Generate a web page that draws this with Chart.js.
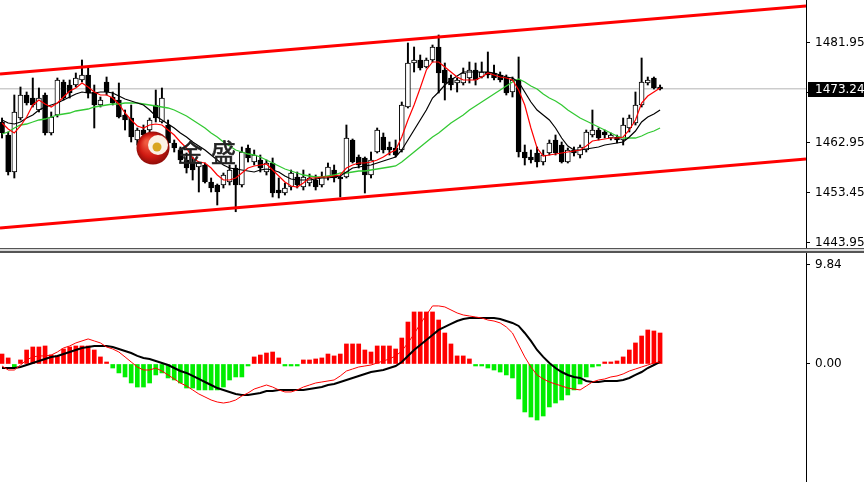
<!DOCTYPE html>
<html>
<head>
<meta charset="utf-8">
<script src="https://cdn.jsdelivr.net/npm/chart.js@4.4.1/dist/chart.umd.min.js"></script>
<style>
  html, body { margin: 0; padding: 0; background: #fff; }
  #wrap { position: relative; width: 864px; height: 482px; overflow: hidden; background: #fff; }
  #priceChart { position: absolute; left: 0; top: 0; }
  #sep { position: absolute; left: 0; top: 248px; width: 864px; height: 5px; box-sizing: border-box;
         border-top: 1px solid #555; border-bottom: 2px solid #555; background: #d8d8d8; }
  #macdChart { position: absolute; left: 0; top: 253px; }
</style>
</head>
<body>
<div id="wrap">
  <canvas id="priceChart" width="864" height="248"></canvas>
  <div id="sep"></div>
  <canvas id="macdChart" width="864" height="229"></canvas>
</div>
<script>
// bar number of each candle
const candleIndex = [
  0, 1, 2, 3, 4, 5, 6, 7, 8, 9, 10, 11, 12, 13, 14, 15, 16, 17, 18, 19,
  20, 21, 22, 23, 24, 25, 26, 27, 28, 29, 30, 31, 32, 33, 34, 35, 36, 37, 38, 39,
  40, 41, 42, 43, 44, 45, 46, 47, 48, 49, 50, 51, 52, 53, 54, 55, 56, 57, 58, 59,
  60, 61, 62, 63, 64, 65, 66, 67, 68, 69, 70, 71, 72, 73, 74, 75, 76, 77, 78, 79,
  80, 81, 82, 83, 84, 85, 86, 87, 88, 89, 90, 91, 92, 93, 94, 95, 96, 97, 98, 99,
  100, 101, 102, 103, 104, 105, 106, 107
];

const opens = [
  1466.94, 1464.47, 1457.44, 1467.70, 1472.07, 1471.50, 1469.22, 1472.07, 1464.85, 1468.27,
  1474.54, 1473.97, 1473.97, 1474.92, 1475.87, 1472.64, 1470.17, 1474.54, 1471.69, 1471.12,
  1468.27, 1467.70, 1463.52, 1465.42, 1465.42, 1470.17, 1466.94, 1466.37, 1462.95, 1461.62,
  1459.72, 1459.15, 1458.39, 1458.77, 1455.54, 1454.97, 1454.97, 1455.54, 1458.20, 1454.97,
  1462.00, 1459.34, 1459.72, 1457.44, 1459.15, 1454.02, 1453.45, 1454.59, 1456.49, 1454.59,
  1455.35, 1455.92, 1454.97, 1456.49, 1457.82, 1456.49, 1456.49, 1463.52, 1460.29, 1460.10,
  1456.87, 1461.24, 1464.09, 1462.19, 1462.00, 1461.62, 1469.79, 1478.15, 1478.72, 1477.39,
  1478.72, 1481.19, 1476.82, 1475.30, 1474.35, 1474.35, 1475.30, 1476.82, 1475.49, 1476.44,
  1476.25, 1475.87, 1475.49, 1472.64, 1474.92, 1461.24, 1460.29, 1461.05, 1459.34, 1461.05,
  1463.52, 1462.57, 1459.34, 1461.62, 1460.67, 1461.62, 1464.47, 1465.42, 1465.04, 1463.90,
  1464.09, 1463.52, 1465.80, 1466.75, 1470.17, 1474.35, 1475.30, 1473.59
];
const highs = [
  1467.70, 1465.04, 1472.07, 1473.59, 1472.64, 1475.30, 1473.40, 1472.45, 1468.84, 1475.30,
  1474.92, 1474.92, 1476.25, 1478.72, 1477.20, 1473.97, 1471.69, 1475.49, 1472.64, 1474.35,
  1469.22, 1470.17, 1465.80, 1466.37, 1467.70, 1473.02, 1473.40, 1467.32, 1463.52, 1462.19,
  1461.05, 1460.29, 1459.34, 1459.15, 1456.30, 1455.16, 1457.25, 1458.77, 1458.77, 1462.19,
  1462.57, 1461.62, 1460.67, 1459.72, 1460.10, 1456.30, 1455.35, 1457.82, 1457.44, 1457.82,
  1457.06, 1456.87, 1457.44, 1459.15, 1458.77, 1456.68, 1466.37, 1463.71, 1460.67, 1460.29,
  1461.24, 1465.80, 1464.85, 1463.14, 1463.52, 1470.74, 1481.95, 1481.19, 1479.67, 1479.10,
  1481.57, 1483.47, 1478.15, 1475.87, 1475.30, 1477.20, 1478.34, 1478.15, 1478.34, 1480.24,
  1477.77, 1476.44, 1475.87, 1475.49, 1479.29, 1462.57, 1461.62, 1462.19, 1461.62, 1463.52,
  1464.47, 1463.14, 1462.00, 1462.19, 1462.57, 1465.42, 1469.22, 1465.80, 1465.42, 1464.85,
  1464.47, 1467.70, 1468.27, 1472.64, 1479.10, 1475.49, 1475.49, 1473.97
];
const lows = [
  1463.90, 1456.87, 1456.30, 1467.32, 1470.17, 1469.79, 1468.84, 1464.47, 1464.47, 1467.89,
  1471.12, 1471.50, 1473.59, 1474.54, 1471.50, 1465.80, 1469.79, 1472.07, 1470.17, 1467.70,
  1465.42, 1463.14, 1462.57, 1463.52, 1464.85, 1466.94, 1466.75, 1461.62, 1461.24, 1459.15,
  1457.25, 1455.92, 1453.64, 1455.35, 1453.64, 1451.17, 1454.40, 1454.97, 1449.89, 1454.59,
  1459.34, 1458.77, 1457.44, 1456.87, 1452.69, 1452.50, 1453.07, 1454.02, 1454.40, 1454.02,
  1454.78, 1454.02, 1454.59, 1455.92, 1455.54, 1452.69, 1456.30, 1459.15, 1458.20, 1453.45,
  1456.30, 1461.05, 1461.05, 1460.67, 1460.29, 1461.24, 1469.60, 1476.44, 1476.82, 1477.20,
  1478.34, 1472.45, 1471.12, 1473.02, 1472.64, 1473.97, 1474.35, 1473.97, 1475.30, 1475.30,
  1474.92, 1474.54, 1472.07, 1471.69, 1460.29, 1458.77, 1459.15, 1458.39, 1458.77, 1460.67,
  1460.67, 1459.15, 1459.15, 1460.48, 1460.10, 1461.24, 1464.09, 1463.52, 1463.90, 1463.52,
  1462.95, 1462.57, 1465.04, 1466.37, 1469.79, 1473.97, 1473.21, 1473.02
];
const closes = [
  1464.85, 1457.44, 1468.84, 1472.07, 1470.55, 1470.17, 1471.50, 1464.85, 1467.89, 1474.92,
  1471.50, 1472.45, 1475.30, 1475.87, 1472.45, 1470.17, 1471.12, 1472.64, 1470.55, 1467.89,
  1467.32, 1464.09, 1465.42, 1464.47, 1467.32, 1467.70, 1471.50, 1462.95, 1462.00, 1459.72,
  1458.20, 1457.82, 1459.15, 1455.54, 1454.40, 1453.64, 1456.87, 1457.82, 1454.97, 1461.24,
  1460.10, 1460.67, 1458.20, 1459.15, 1453.45, 1453.45, 1454.40, 1457.25, 1454.97, 1456.49,
  1456.30, 1454.59, 1456.49, 1458.39, 1456.30, 1456.11, 1463.90, 1459.34, 1458.77, 1456.87,
  1459.72, 1465.42, 1461.62, 1461.62, 1460.67, 1470.17, 1478.15, 1478.72, 1477.20, 1478.72,
  1481.19, 1476.25, 1474.35, 1473.97, 1474.92, 1476.25, 1476.82, 1474.92, 1476.44, 1475.87,
  1475.30, 1474.92, 1472.45, 1474.92, 1461.24, 1460.10, 1459.72, 1459.34, 1460.67, 1462.95,
  1461.05, 1459.34, 1461.62, 1461.05, 1462.19, 1465.04, 1465.42, 1463.90, 1464.47, 1464.47,
  1463.52, 1466.37, 1467.70, 1470.17, 1474.54, 1474.92, 1473.40, 1473.24
];

// moving averages as drawn on the chart (red fast, black middle, green slow)
const maFast = [
  1466.75, 1465.61, 1464.85, 1466.18, 1467.89, 1470.17, 1471.12, 1470.36, 1469.79, 1470.55,
  1471.69, 1472.83, 1473.40, 1474.35, 1473.59, 1472.64, 1472.07, 1472.07, 1471.50, 1470.36,
  1468.65, 1467.32, 1466.18, 1465.80, 1466.37, 1466.56, 1466.37, 1465.42, 1464.47, 1463.14,
  1462.00, 1460.10, 1459.34, 1459.15, 1458.20, 1456.87, 1455.92, 1455.92, 1456.30, 1457.25,
  1458.20, 1458.58, 1458.77, 1458.96, 1457.82, 1456.68, 1455.54, 1454.78, 1454.59, 1455.35,
  1456.30, 1456.30, 1456.49, 1456.49, 1456.68, 1456.87, 1458.20, 1458.77, 1459.15, 1459.15,
  1459.34, 1459.72, 1460.29, 1461.05, 1461.62, 1464.09, 1467.32, 1470.17, 1473.40, 1476.82,
  1478.34, 1478.34, 1477.39, 1476.44, 1475.49, 1474.92, 1474.92, 1474.92, 1475.49, 1476.25,
  1475.87, 1475.49, 1475.30, 1474.92, 1473.02, 1470.17, 1465.80, 1462.00, 1460.48, 1460.67,
  1460.86, 1461.05, 1461.24, 1461.43, 1461.62, 1462.38, 1463.33, 1463.52, 1463.71, 1463.90,
  1463.90, 1464.09, 1465.42, 1467.32, 1470.55, 1471.88, 1472.64, 1473.40
];
const maMid = [
  1467.32, 1466.75, 1466.56, 1466.94, 1467.70, 1468.27, 1469.22, 1469.79, 1470.17, 1470.55,
  1471.12, 1471.69, 1472.26, 1472.64, 1472.45, 1472.45, 1472.64, 1472.64, 1472.45, 1471.88,
  1471.31, 1470.93, 1470.55, 1470.17, 1469.22, 1468.08, 1467.32, 1466.56, 1465.80, 1464.85,
  1464.09, 1463.14, 1462.38, 1461.62, 1460.67, 1459.72, 1458.77, 1458.20, 1458.01, 1457.82,
  1457.63, 1457.44, 1457.82, 1458.01, 1457.82, 1457.44, 1456.68, 1456.11, 1455.92, 1455.92,
  1455.92, 1456.11, 1456.30, 1456.30, 1456.49, 1456.68, 1457.44, 1458.20, 1458.39, 1458.58,
  1458.77, 1459.15, 1459.53, 1459.91, 1460.29, 1461.62, 1463.52, 1465.42, 1467.32, 1469.22,
  1471.50, 1472.64, 1473.97, 1474.92, 1475.68, 1476.44, 1476.44, 1476.44, 1476.44, 1476.44,
  1476.25, 1475.87, 1475.49, 1475.30, 1474.54, 1472.64, 1470.74, 1469.22, 1468.27, 1467.32,
  1465.80, 1463.90, 1462.38, 1461.62, 1461.62, 1461.81, 1462.00, 1462.19, 1462.57, 1462.76,
  1462.95, 1463.14, 1464.09, 1465.23, 1466.94, 1467.89, 1468.46, 1469.22
];
const maSlow = [
  1464.66, 1465.04, 1465.80, 1466.37, 1466.56, 1466.94, 1467.32, 1467.51, 1467.89, 1468.27,
  1468.46, 1468.65, 1469.03, 1469.22, 1469.41, 1469.79, 1469.98, 1470.17, 1470.36, 1470.36,
  1470.55, 1470.55, 1470.55, 1470.36, 1470.17, 1469.98, 1469.79, 1469.60, 1469.22, 1468.65,
  1468.08, 1467.32, 1466.56, 1465.80, 1464.85, 1464.09, 1463.14, 1462.38, 1461.62, 1461.24,
  1460.86, 1460.67, 1460.29, 1459.72, 1459.15, 1458.58, 1458.01, 1457.63, 1457.25, 1456.87,
  1456.68, 1456.49, 1456.49, 1456.68, 1456.87, 1457.25, 1457.25, 1457.44, 1457.63, 1457.63,
  1457.82, 1458.01, 1458.20, 1458.39, 1458.58, 1459.34, 1460.29, 1461.24, 1462.19, 1463.14,
  1464.09, 1464.85, 1465.80, 1466.75, 1467.51, 1468.27, 1469.22, 1469.98, 1470.74, 1471.50,
  1472.26, 1473.02, 1473.78, 1474.54, 1475.11, 1474.54, 1473.78, 1473.21, 1472.26, 1471.50,
  1470.93, 1470.17, 1469.22, 1468.46, 1467.70, 1467.13, 1466.56, 1465.99, 1465.42, 1464.85,
  1464.28, 1463.90, 1463.90, 1463.90, 1464.28, 1464.85, 1465.23, 1465.80
];

// channel lines: bar number at left / right edge and the price there
const channelIndex = [-0.33, 130.73];
const channelUpper = [1476.06, 1488.98];
const channelLower = [1446.80, 1459.91];

const lastPrice = 1473.24;
const priceTicks = [1443.95, 1453.45, 1462.95, 1472.45, 1481.95];

const macdHist = [
  0.99, 0.60, -0.40, 0.40, 1.39, 1.69, 1.69, 1.79, 0.89, 0.80,
  1.49, 1.69, 1.79, 1.79, 1.79, 1.39, 0.70, 0.10, -0.40, -0.89,
  -1.29, -1.89, -2.29, -2.29, -1.89, -1.09, -0.89, -1.39, -1.59, -1.89,
  -2.39, -2.39, -2.58, -2.58, -2.58, -2.58, -2.29, -1.59, -1.29, -1.29,
  -0.10, 0.70, 0.89, 1.09, 1.19, 0.60, -0.10, -0.10, -0.10, 0.40,
  0.40, 0.50, 0.60, 0.99, 0.80, 0.99, 1.99, 1.99, 1.99, 1.39,
  1.19, 1.79, 1.79, 1.79, 1.49, 2.58, 4.17, 5.17, 5.17, 5.17,
  5.17, 4.37, 3.08, 1.99, 0.80, 0.80, 0.50, -0.10, -0.20, -0.40,
  -0.60, -0.80, -1.09, -1.39, -3.48, -4.77, -5.27, -5.57, -5.17, -4.27,
  -3.88, -3.58, -3.08, -2.58, -1.99, -1.29, -0.30, -0.20, 0.20, 0.20,
  0.30, 0.70, 1.39, 2.09, 2.78, 3.38, 3.28, 3.08
];
const macdMain = [
  -0.20, -0.60, -0.60, -0.10, 0.40, 0.70, 0.80, 0.80, 0.89, 1.19,
  1.59, 1.79, 2.09, 2.29, 2.49, 2.29, 2.09, 1.69, 1.49, 1.19,
  0.70, 0.20, -0.30, -0.60, -0.60, -0.40, -0.70, -1.09, -1.49, -1.89,
  -2.19, -2.58, -2.98, -3.28, -3.58, -3.78, -3.88, -3.78, -3.58, -3.18,
  -2.88, -2.49, -2.29, -2.09, -2.29, -2.58, -2.78, -2.78, -2.58, -2.29,
  -2.09, -1.89, -1.79, -1.69, -1.59, -1.19, -0.70, -0.50, -0.30, -0.20,
  -0.10, 0.10, 0.30, 0.50, 0.80, 1.29, 2.09, 2.98, 3.98, 4.87,
  5.77, 5.77, 5.67, 5.37, 5.07, 4.87, 4.77, 4.67, 4.57, 4.37,
  4.27, 4.08, 3.68, 3.08, 1.89, 0.70, -0.30, -1.09, -1.49, -1.79,
  -1.99, -2.19, -2.39, -2.49, -2.58, -2.19, -1.79, -1.59, -1.49, -1.29,
  -1.19, -0.99, -0.70, -0.50, -0.30, -0.10, 0.10, 0.20
];
const macdSignal = [
  -0.40, -0.40, -0.40, -0.30, -0.10, 0.10, 0.30, 0.50, 0.70, 0.80,
  0.99, 1.19, 1.39, 1.59, 1.69, 1.79, 1.79, 1.79, 1.69, 1.49,
  1.29, 1.09, 0.80, 0.60, 0.50, 0.30, 0.10, -0.10, -0.40, -0.70,
  -0.89, -1.19, -1.49, -1.79, -2.09, -2.39, -2.58, -2.78, -2.98, -3.08,
  -3.08, -2.98, -2.88, -2.68, -2.68, -2.58, -2.58, -2.58, -2.58, -2.58,
  -2.49, -2.39, -2.29, -2.09, -1.99, -1.79, -1.59, -1.39, -1.19, -0.99,
  -0.80, -0.70, -0.60, -0.40, -0.20, 0.20, 0.80, 1.39, 1.89, 2.39,
  2.88, 3.38, 3.68, 3.98, 4.27, 4.47, 4.57, 4.57, 4.57, 4.57,
  4.57, 4.47, 4.27, 4.08, 3.78, 3.08, 2.29, 1.39, 0.70, 0.10,
  -0.40, -0.80, -1.09, -1.29, -1.39, -1.69, -1.79, -1.79, -1.69, -1.69,
  -1.69, -1.59, -1.39, -1.09, -0.80, -0.40, -0.10, 0.20
];
const macdTicks = [0, 9.84];

const axisFont = { family: 'DejaVu Sans', size: 12 };

function xScale() {
  return { type: 'linear', display: false, offset: false, min: channelIndex[0], max: channelIndex[1] };
}

function rightAxis(min, max, ticks) {
  return {
    position: 'right',
    min: min,
    max: max,
    afterBuildTicks: s => { s.ticks = ticks.map(v => ({ value: v })); },
    afterFit: s => { s.width = 58; s.paddingTop = 0; s.paddingBottom = 0; },
    grid: { drawOnChartArea: false, drawTicks: true, tickLength: 4, color: '#000' },
    border: { display: true, color: '#000', width: 1 },
    ticks: { padding: 5, color: '#000', font: axisFont, autoSkip: false, callback: v => v.toFixed(2) }
  };
}

// black box with the last price on the price axis
const lastPriceLabel = {
  id: 'lastPriceLabel',
  afterDraw(chart) {
    const y = chart.scales.y.getPixelForValue(lastPrice);
    const ctx = chart.ctx;
    ctx.save();
    ctx.fillStyle = '#000';
    ctx.fillRect(chart.chartArea.right + 2, Math.round(y) - 7, 60, 15);
    ctx.fillStyle = '#fff';
    ctx.font = '12px "DejaVu Sans"';
    ctx.textBaseline = 'middle';
    ctx.fillText(lastPrice.toFixed(2), chart.chartArea.right + 9, Math.round(y) + 1);
    ctx.restore();
  }
};

// broker logo on the chart
const logo = {
  id: 'logo',
  afterDatasetsDraw(chart) {
    const ctx = chart.ctx;
    ctx.save();
    const g = ctx.createRadialGradient(147, 142, 2, 153, 148, 17);
    g.addColorStop(0, '#f05a40');
    g.addColorStop(0.6, '#d01a12');
    g.addColorStop(1, '#8c0c08');
    ctx.fillStyle = g;
    ctx.beginPath();
    ctx.arc(153, 148, 16.5, 0, Math.PI * 2);
    ctx.fill();
    ctx.fillStyle = '#fbf1e4';
    ctx.beginPath();
    ctx.arc(158, 145, 10, 0, Math.PI * 2);
    ctx.fill();
    ctx.fillStyle = '#d9a520';
    ctx.beginPath();
    ctx.arc(157, 147, 4.5, 0, Math.PI * 2);
    ctx.fill();
    ctx.fillStyle = '#222';
    ctx.strokeStyle = '#222';
    ctx.lineWidth = 0.6;
    ctx.font = '25px "Noto Sans CJK SC"';
    ctx.textBaseline = 'alphabetic';
    ctx.fillText('金', 178, 162);
    ctx.strokeText('金', 178, 162);
    ctx.fillText('盛', 211, 162);
    ctx.strokeText('盛', 211, 162);
    ctx.restore();
  }
};

new Chart(document.getElementById('priceChart'), {
  type: 'bar',
  data: {
    labels: candleIndex,
    datasets: [
      { type: 'line', data: [{ x: channelIndex[0], y: channelUpper[0] }, { x: channelIndex[1], y: channelUpper[1] }],
        borderColor: '#ff0000', borderWidth: 3, pointRadius: 0, order: 0 },
      { type: 'line', data: [{ x: channelIndex[0], y: channelLower[0] }, { x: channelIndex[1], y: channelLower[1] }],
        borderColor: '#ff0000', borderWidth: 3, pointRadius: 0, order: 0 },
      { type: 'line', data: maFast, borderColor: '#ff0000', borderWidth: 1.2, pointRadius: 0, order: 1 },
      { type: 'line', data: maMid, borderColor: '#000000', borderWidth: 1.2, pointRadius: 0, order: 1 },
      { type: 'line', data: maSlow, borderColor: '#33c933', borderWidth: 1.3, pointRadius: 0, order: 1 },
      { data: opens.map((o, i) => [o, closes[i]]),
        backgroundColor: opens.map((o, i) => closes[i] >= o ? '#ffffff' : '#000000'),
        borderColor: '#000', borderWidth: 1, borderSkipped: false, barThickness: 5,
        grouped: false, minBarLength: 1, order: 2 },
      { data: lows.map((l, i) => [l, highs[i]]), backgroundColor: '#000', borderWidth: 0,
        barThickness: 1.3, grouped: false, order: 3 },
      { type: 'line', data: [{ x: channelIndex[0], y: lastPrice }, { x: channelIndex[1], y: lastPrice }],
        borderColor: '#b4b4b4', borderWidth: 1, pointRadius: 0, order: 4 }
    ]
  },
  options: {
    responsive: false,
    animation: false,
    layout: { padding: 0 },
    plugins: { legend: { display: false }, tooltip: { enabled: false } },
    scales: { x: xScale(), y: rightAxis(1443.0, 1490.12, priceTicks) }
  },
  plugins: [logo, lastPriceLabel]
});

new Chart(document.getElementById('macdChart'), {
  type: 'bar',
  data: {
    labels: candleIndex,
    datasets: [
      { type: 'line', data: macdMain, borderColor: '#ff0000', borderWidth: 1, pointRadius: 0, order: 0 },
      { type: 'line', data: macdSignal, borderColor: '#000000', borderWidth: 2, pointRadius: 0, order: 0 },
      { data: macdHist, backgroundColor: macdHist.map(v => v >= 0 ? '#ff0000' : '#00ee00'),
        barThickness: 4, grouped: false, minBarLength: 2, order: 1 }
    ]
  },
  options: {
    responsive: false,
    animation: false,
    layout: { padding: 0 },
    plugins: { legend: { display: false }, tooltip: { enabled: false } },
    scales: { x: xScale(), y: rightAxis(-11.73, 11.03, macdTicks) }
  }
});
</script>
</body>
</html>
